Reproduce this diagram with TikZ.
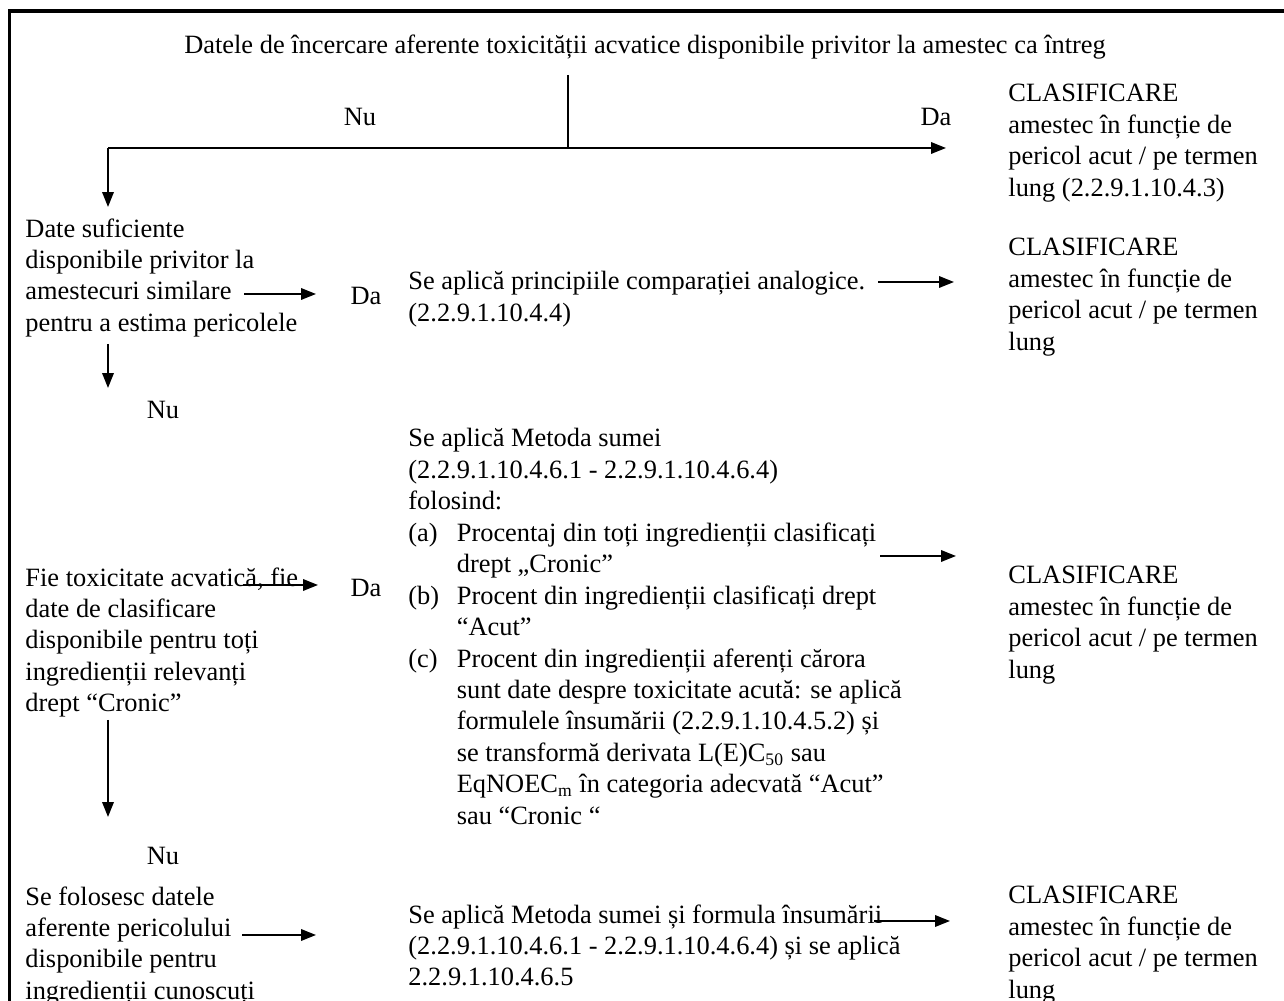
\documentclass[tikz,border=0pt]{standalone}
\usepackage{fontspec}
\setmainfont{Liberation Serif}
\usetikzlibrary{arrows.meta}
\tikzstyle{txt}=[anchor=north west,align=left,inner sep=0pt,font=\fontsize{12}{14.3}\selectfont]
\tikzstyle{lbl}=[inner sep=0pt,font=\fontsize{12}{14.3}\selectfont]
\tikzstyle{ln}=[line width=0.9pt]
\tikzstyle{arr}=[line width=0.9pt,-{Triangle[length=6.8pt,width=5.2pt]}]
\newcommand{\itm}[1]{\makebox[22pt][l]{#1}}
\newcommand{\ind}{\hspace*{22pt}}

\begin{document}
\begin{tikzpicture}[x=0.4545pt,y=-0.4545pt]
    \useasboundingbox (0,0) rectangle (1284,1001);
    \draw[line width=1.5pt] (1284,11) -- (9.5,11) -- (9.5,1001);

    % first question
    \node[lbl] (title) at (645,47) {Datele de încercare aferente toxicității acvatice disponibile privitor la amestec ca întreg};
    \coordinate (top) at (568,75);
    \coordinate (split) at (568,148);
    \coordinate (lft) at (108,148);
    \coordinate (e1) at (946,148);
    \coordinate (d1) at (108,207);
    \node[lbl] (nu1) at (360,117) {Nu};
    \node[lbl] (da1) at (936,117) {Da};
    \node[txt] (cls1) at (1008,84) {CLASIFICARE\\amestec în funcție de\\pericol acut / pe termen\\lung (2.2.9.1.10.4.3)};

    % similar mixtures
    \node[txt] (q1) at (25,218) {Date suficiente\\disponibile privitor la\\amestecuri similare\\pentru a estima pericolele};
    \node[lbl] (da2) at (366,296) {Da};
    \node[txt] (mb) at (408,271) {Se aplică principiile comparației analogice.\\(2.2.9.1.10.4.4)};
    \node[txt] (cls2) at (1008,238) {CLASIFICARE\\amestec în funcție de\\pericol acut / pe termen\\lung};
    \coordinate (a1) at (244,294);
    \coordinate (a2) at (316,294);
    \coordinate (b1) at (878,282);
    \coordinate (b2) at (954,282);
    \coordinate (d2s) at (108,344);
    \coordinate (d2) at (108,388);
    \node[lbl] (nu2) at (163,410) {Nu};

    % summation method
    \node[txt] (mc) at (408,428) {Se aplică Metoda sumei\\
        (2.2.9.1.10.4.6.1 - 2.2.9.1.10.4.6.4)\\
        folosind:\\
        \itm{(a)}Procentaj din toți ingredienții clasificați\\
        \ind drept „Cronic”\\
        \itm{(b)}Procent din ingredienții clasificați drept\\
        \ind “Acut”\\
        \itm{(c)}Procent din ingredienții aferenți cărora\\
        \ind sunt date despre toxicitate acută: se aplică\\
        \ind formulele însumării (2.2.9.1.10.4.5.2) și\\
        \ind se transformă derivata L(E)C\textsubscript{50} sau\\
        \ind EqNOEC\textsubscript{m} în categoria adecvată “Acut”\\
        \ind sau “Cronic “};
    \node[txt] (q2) at (25,567) {Fie toxicitate acvatică, fie\\date de clasificare\\disponibile pentru toți\\ingredienții relevanți\\drept “Cronic”};
    \node[lbl] (da3) at (366,588) {Da};
    \node[txt] (cls3) at (1008,566) {CLASIFICARE\\amestec în funcție de\\pericol acut / pe termen\\lung};
    \coordinate (c1) at (243,585);
    \coordinate (c2) at (318,585);
    \coordinate (c3) at (880,556);
    \coordinate (c4) at (956,556);
    \coordinate (d3s) at (108,720);
    \coordinate (d3) at (108,817);
    \node[lbl] (nu3) at (163,856) {Nu};

    % known ingredients
    \node[txt] (q3) at (25,886) {Se folosesc datele\\aferente pericolului\\disponibile pentru\\ingredienții cunoscuți};
    \node[txt] (md) at (408,904) {Se aplică Metoda sumei și formula însumării\\(2.2.9.1.10.4.6.1 - 2.2.9.1.10.4.6.4) și se aplică\\2.2.9.1.10.4.6.5};
    \node[txt] (cls4) at (1008,886) {CLASIFICARE\\amestec în funcție de\\pericol acut / pe termen\\lung};
    \coordinate (f1) at (242,935);
    \coordinate (f2) at (316,935);
    \coordinate (f3) at (874,921);
    \coordinate (f4) at (950,921);

    \draw[ln] (top) -- (split);
    \draw[ln] (split) -- (lft);
    \foreach \from/\to in {split/e1,lft/d1,a1/a2,b1/b2,d2s/d2,c1/c2,c3/c4,d3s/d3,f1/f2,f3/f4}
    \draw[arr] (\from) -- (\to);
\end{tikzpicture}
\end{document}
